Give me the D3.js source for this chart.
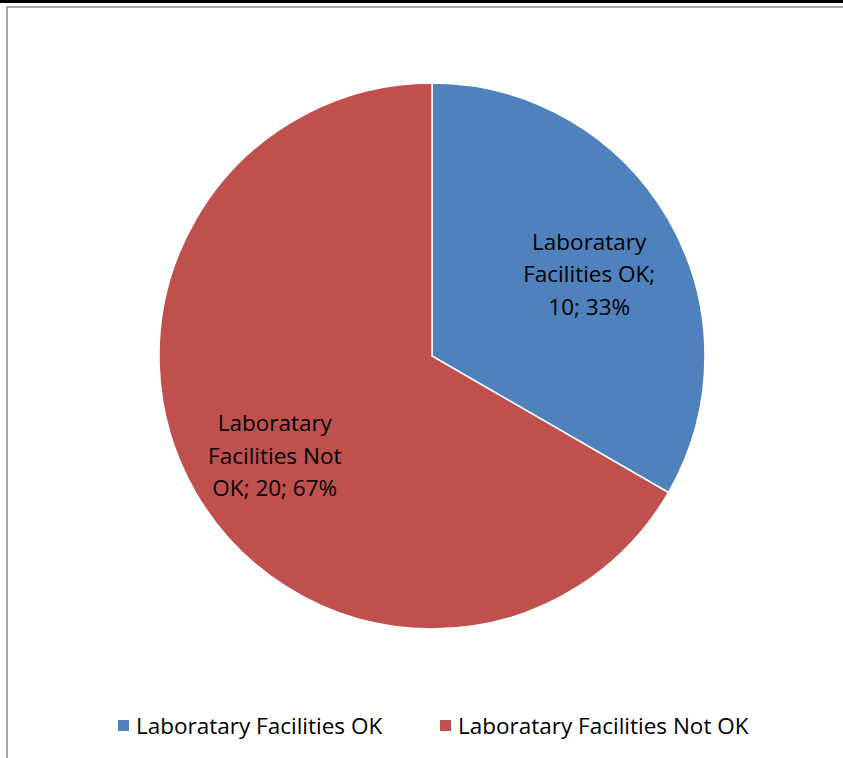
<!DOCTYPE html>
<html>
<head>
<meta charset="utf-8">
<script src="https://cdn.jsdelivr.net/npm/d3@7"></script>
<style>
  body { margin: 0; background: #fff; }
  svg { display: block; }
  text { font-family: "Open Sans", "Noto Sans", sans-serif; fill: #000; }
</style>
</head>
<body>
<div id="chart"></div>
<script>
var W = 843, H = 758;

// Chart data.
var categories = ['Laboratary Facilities OK', 'Laboratary Facilities Not OK'];
var values = [10, 20];
var percents = ['33%', '67%'];
var labelLines = [
  ['Laboratary', 'Facilities OK;', '10; 33%'],
  ['Laboratary', 'Facilities Not', 'OK; 20; 67%']
];
var colors = ['#4f81bd', '#c0504d'];

var svg = d3.select('#chart')
  .append('svg')
  .attr('width', W)
  .attr('height', H);

// Page rule and chart frame.
svg.append('rect')
  .attr('x', 0).attr('y', 0)
  .attr('width', W).attr('height', 3)
  .style('fill', '#000');
svg.append('path')
  .style('fill', 'none')
  .style('stroke', '#8c8c8c')
  .style('stroke-width', 1.5)
  .attr('d', 'M7,' + H + ' L7,7 L' + W + ',7');

var cx = 432, cy = 356, r = 273;

var pie = d3.pie().sort(null).value(function (d) { return d; });
var arc = d3.arc().innerRadius(0).outerRadius(r);
var arcs = pie(values);

var g = svg.append('g').attr('transform', 'translate(' + cx + ',' + cy + ')');

g.selectAll('path.slice')
  .data(arcs)
  .enter()
  .append('path')
  .attr('class', 'slice')
  .attr('d', arc)
  .style('fill', function (d, i) { return colors[i]; })
  .style('stroke', '#fff')
  .style('stroke-width', 1.5);

// Data labels inside slices.
var labelArc = d3.arc().innerRadius(r * 0.665).outerRadius(r * 0.665);
var labels = g.selectAll('text.lbl')
  .data(arcs)
  .enter()
  .append('text')
  .attr('class', 'lbl')
  .attr('text-anchor', 'middle')
  .style('font-size', '22.5px')
  .attr('transform', function (d) {
    var c = labelArc.centroid(d);
    return 'translate(' + c[0] + ',' + (c[1] + 9) + ')';
  });

labels.each(function (d, i) {
  var t = d3.select(this);
  labelLines[i].forEach(function (line, j) {
    t.append('tspan')
      .attr('x', 0)
      .attr('y', (j - 1) * 32.5 + 8)
      .text(line);
  });
});

// Legend.
var legendX = [118, 440];
var legend = svg.selectAll('g.legend')
  .data(categories)
  .enter()
  .append('g')
  .attr('class', 'legend')
  .attr('transform', function (d, i) { return 'translate(' + legendX[i] + ',720)'; });

legend.append('rect')
  .attr('width', 11).attr('height', 11)
  .style('fill', function (d, i) { return colors[i]; });

legend.append('text')
  .attr('x', 18)
  .attr('y', 14)
  .style('font-size', '22.5px')
  .text(function (d) { return d; });
</script>
</body>
</html>
